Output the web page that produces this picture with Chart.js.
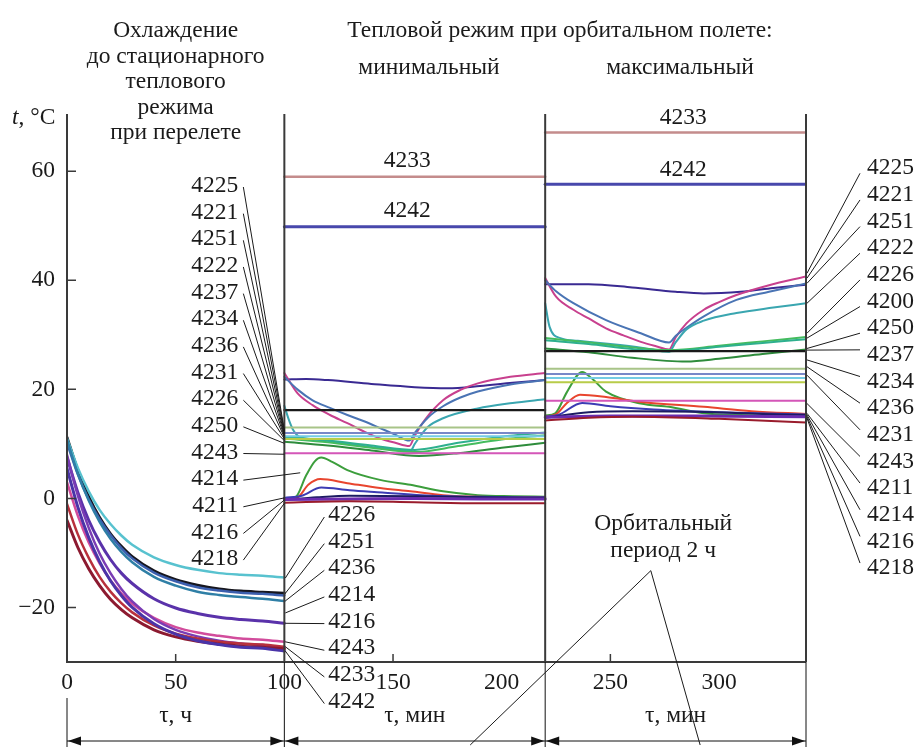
<!DOCTYPE html>
<html><head><meta charset="utf-8">
<script src="https://cdn.jsdelivr.net/npm/chart.js@4/dist/chart.umd.min.js"></script>
<style>html,body{margin:0;padding:0;background:#fff;}canvas{display:block;}</style>
</head><body>
<canvas id="c" width="919" height="747"></canvas>
<script>
// ---- Cooling to steady state during transfer flight (time in hours) ----
const flightHours = [0, 5, 10, 15, 20, 25, 30, 40, 50, 60, 70, 80, 90, 100];
const cool4226  = [11.0, 5.6, 1.3, -2.1, -4.7, -6.8, -8.5, -10.8, -12.2, -13.1, -13.7, -14.0, -14.2, -14.5];
const cool4251  = [11.2, 5.1, 0.3, -3.5, -6.5, -8.8, -10.7, -13.3, -14.9, -15.9, -16.6, -17.0, -17.2, -17.4];
const coolSteel = [10.2, 4.4, -0.2, -3.8, -6.7, -9.1, -11.0, -13.6, -15.2, -16.3, -16.9, -17.3, -17.5, -17.8];
const cool4236  = [10.8, 4.5, -0.4, -4.3, -7.4, -9.8, -11.7, -14.4, -16.0, -17.1, -17.7, -18.1, -18.4, -18.8];
const cool4216  = [7.5, 1.1, -4.0, -8.0, -11.2, -13.7, -15.6, -18.4, -20.1, -21.1, -21.8, -22.2, -22.5, -22.9];
const cool4243  = [3.0, -3.2, -8.1, -11.9, -15.0, -17.4, -19.3, -21.9, -23.6, -24.6, -25.2, -25.7, -25.9, -26.3];
const cool4233  = [-1.0, -6.6, -10.9, -14.4, -17.1, -19.2, -20.9, -23.3, -24.8, -25.7, -26.3, -26.6, -26.8, -27.2];
const coolViolet= [8.0, 0.5, -5.4, -10.1, -13.7, -16.6, -18.9, -22.1, -24.1, -25.3, -26.1, -26.6, -26.9, -27.4];
const coolMaroon= [-4.0, -9.0, -12.9, -16.0, -18.5, -20.4, -21.9, -24.1, -25.4, -26.2, -26.7, -27.1, -27.3, -27.6];
const cool4242  = [5.5, -1.6, -7.2, -11.6, -15.1, -17.8, -20.0, -23.0, -24.9, -26.1, -26.8, -27.3, -27.5, -28.0];

// ---- Orbital flight: constant-temperature units (min / max mode) ----
const flatMin = [59.0, 49.8, 16.2, 13.0, 12.0, 11.4, 10.9, 8.3];
const flatMax = [67.1, 57.6, 27.0, 23.8, 22.8, 22.1, 21.3, 17.9];

// ---- Orbital flight, minimal mode (time in minutes, 100..220) ----
const minNavy    = [[100,21.8],[110,21.9],[120,21.7],[140,21.0],[160,20.4],[175,20.2],[190,20.6],[205,21.2],[220,21.7]];
const minMagenta = [[100,23.0],[106,19.3],[113,17.1],[121,15.3],[129,13.8],[137,12.2],[144,11.0],[151,10.2],[157.5,9.6],[160,11.5],[165,14.6],[173,18.0],[181,19.9],[189,21.1],[204,22.3],[220,23.0]];
const minBlue    = [[100,22.3],[106,20.0],[113,18.0],[121,16.6],[129,15.3],[137,14.1],[144,12.9],[151,11.7],[157.5,10.6],[160,12.0],[166,14.8],[173,16.9],[181,18.5],[189,19.6],[204,20.9],[220,21.7]];
const minTeal    = [[100,17.0],[102,14.5],[104,12.6],[107,11.3],[115,10.8],[130,10.0],[145,9.2],[158,8.7],[160,10.0],[166,13.1],[173,14.7],[189,16.5],[205,17.5],[220,18.2]];
const minGreenA  = [[100,11.0],[120,10.3],[140,9.3],[160,8.5],[180,9.6],[200,10.8],[220,11.6]];
const minGreenB  = [[100,11.3],[120,10.6],[140,9.7],[160,8.9],[180,10.2],[200,11.3],[220,12.1]];
const minGreenC  = [[100,10.4],[120,9.7],[140,8.8],[162,7.8],[180,8.3],[200,9.3],[220,10.2]];
const minSpikeG  = [[100,0.0],[105,0.2],[110,4.2],[114,6.8],[117,7.5],[122,6.7],[129,5.2],[144,3.4],[158,2.5],[173,1.3],[189,0.6],[205,0.4],[220,0.3]];
const minSpikeR  = [[100,0.0],[106,0.2],[111,2.5],[116.5,3.55],[129,2.8],[144,1.9],[158,1.3],[173,0.6],[189,0.3],[220,0.2]];
const minBump    = [[100,0.1],[108,0.5],[117,2.0],[130,1.5],[145,1.1],[163,0.6],[190,0.3],[220,0.2]];
const minNavyLow = [[100,-0.3],[115,0.2],[130,0.5],[160,0.4],[190,0.2],[220,0.1]];
const minViolet  = [[100,-0.2],[130,-0.1],[160,0.0],[190,-0.1],[220,-0.1]];
const minMaroon  = [[100,-0.8],[130,-0.5],[160,-0.7],[190,-0.9],[220,-0.9]];

// ---- Orbital flight, maximal mode (time in minutes, 220..340) ----
const maxNavy    = [[220,39.3],[240,39.3],[260,38.7],[280,37.9],[293,37.6],[310,37.9],[325,38.6],[340,39.2]];
const maxMagenta = [[220,40.4],[225,37.0],[233,34.6],[240,33.0],[248,31.2],[256,29.9],[264,28.7],[271,27.9],[277,27.3],[280,29.5],[285,32.1],[293,34.6],[300,36.0],[308,37.3],[323,39.1],[340,40.7]];
const maxBlue    = [[220,40.0],[225,38.0],[233,35.8],[248,32.7],[264,30.3],[277,28.6],[280,29.8],[285,31.3],[293,33.4],[308,36.4],[323,37.9],[340,39.4]];
const maxTeal    = [[220,35.8],[222,31.5],[227,29.4],[235,28.9],[250,28.3],[265,27.6],[277,26.9],[280,28.6],[285,31.0],[293,32.6],[308,34.0],[325,35.0],[340,35.8]];
const maxGreenA  = [[220,29.4],[240,28.6],[260,27.7],[277,27.2],[300,28.0],[320,28.8],[340,29.6]];
const maxGreenB  = [[220,29.0],[240,28.3],[260,27.4],[277,27.0],[300,27.8],[320,28.5],[340,29.2]];
const maxGreenC  = [[220,27.5],[240,26.8],[260,25.8],[285,25.1],[300,25.6],[320,26.5],[340,27.3]];
const maxSpikeG  = [[220,15.2],[224.6,15.6],[230,19.5],[237,23.2],[242,21.8],[248,19.6],[264,17.4],[277,16.8],[293,15.6],[310,15.3],[340,15.1]];
const maxSpikeR  = [[220,15.0],[225,15.4],[230,17.5],[236,19.0],[248,18.6],[264,17.7],[293,16.8],[315,16.0],[340,15.5]];
const maxBump    = [[220,15.0],[226,15.3],[237,17.5],[250,16.9],[270,16.3],[300,15.8],[340,15.4]];
const maxNavyLow = [[220,14.8],[240,15.8],[260,16.0],[290,15.9],[320,15.5],[340,15.3]];
const maxViolet  = [[220,14.9],[250,15.1],[290,15.1],[340,15.0]];
const maxMaroon  = [[220,14.3],[240,14.8],[260,15.0],[300,14.6],[340,13.9]];

// ---- Axis ticks and callout labels ----
const yTicks = [60, 40, 20, 0, -20];
const xTicks = [0, 50, 100, 150, 200, 250, 300];
const leftLabels   = ['4225','4221','4251','4222','4237','4234','4236','4231','4226','4250','4243','4214','4211','4216','4218'];
const leftTargets  = [[100,12.5],[100,12.3],[100,12.0],[100,11.8],[100,11.6],[100,11.4],[100,11.2],[100,10.9],[100,10.6],[100,10.1],[100,8.1],[107.3,4.7],[100,0.1],[100,-0.3],[100,-0.9]];
const bottomLabels = ['4226','4251','4236','4214','4216','4243','4233','4242'];
const bottomTargets= [-14.6, -17.4, -18.8, -21.0, -22.9, -26.3, -27.2, -28.0];
const rightLabels  = ['4225','4221','4251','4222','4226','4200','4250','4237','4234','4236','4231','4243','4211','4214','4216','4218'];
const rightTargets = [41.3, 40.4, 39.45, 35.8, 30.3, 29.4, 27.5, 27.2, 25.4, 24.15, 22.6, 17.4, 15.6, 15.3, 15.0, 14.7];

// ---------------------------------------------------------------
const datasets = [];
function addSeries(points, color, width) {
  datasets.push({
    data: points.map(p => ({x: p[0], y: p[1]})),
    borderColor: color, borderWidth: width || 2,
    pointRadius: 0, fill: false,
    cubicInterpolationMode: 'monotone'
  });
}
const hrs = arr => flightHours.map((h, i) => [h, arr[i]]);

// cooling curves
addSeries(hrs(cool4242),  '#4a34a8', 3);
addSeries(hrs(coolMaroon),'#8c1a30', 3);
addSeries(hrs(cool4233),  '#b8303c', 2.5);
addSeries(hrs(coolViolet),'#7a3cb4', 2.5);
addSeries(hrs(cool4243),  '#d24c9c', 2.5);
addSeries(hrs(cool4216),  '#5a32aa', 3);
addSeries(hrs(cool4236),  '#2f7fa6', 2.5);
addSeries(hrs(coolSteel), '#3c5fae', 2.5);
addSeries(hrs(cool4226),  '#58c2cf', 2.5);
addSeries(hrs(cool4251),  '#16161e', 3);

// constant levels in both orbital modes
const flatColors = ['#c48c8c', '#4848ac', '#1a1a1a', '#a8c488', '#7888c8', '#74cce4', '#b8cc48', '#d456b8'];
const flatWidths = [2.5, 3, 2.2, 2, 2, 2, 2, 2];
flatMin.forEach((v, i) => addSeries([[100, v], [220, v]], flatColors[i], flatWidths[i]));
flatMax.forEach((v, i) => addSeries([[220, v], [340, v]], flatColors[i], flatWidths[i]));

// minimal mode curves
addSeries(minGreenC, '#2e8c3c'); addSeries(minGreenB, '#2eb08e'); addSeries(minGreenA, '#44bc5e');
addSeries(minTeal, '#3aa6b0'); addSeries(minBlue, '#4a74b4'); addSeries(minMagenta, '#c8408e');
addSeries(minNavy, '#3a2a92');
addSeries(minMaroon, '#9a1c2c'); addSeries(minViolet, '#6a2cb0', 3); addSeries(minNavyLow, '#1c1c62');
addSeries(minBump, '#3c3cb4'); addSeries(minSpikeR, '#e8452e'); addSeries(minSpikeG, '#3c9e3c');
// maximal mode curves
addSeries(maxGreenC, '#2e8c3c'); addSeries(maxGreenB, '#2eb08e'); addSeries(maxGreenA, '#44bc5e');
addSeries(maxTeal, '#3aa6b0'); addSeries(maxBlue, '#4a74b4'); addSeries(maxMagenta, '#c8408e');
addSeries(maxNavy, '#3a2a92');
addSeries(maxMaroon, '#9a1c2c'); addSeries(maxViolet, '#6a2cb0', 3); addSeries(maxNavyLow, '#1c1c62');
addSeries(maxBump, '#3c3cb4'); addSeries(maxSpikeR, '#e8452e'); addSeries(maxSpikeG, '#3c9e3c');

const SERIF = '"Liberation Serif", "Times New Roman", serif';
const FONT = '23.5px ' + SERIF;

const decor = {
  id: 'decor',
  afterDatasetsDraw(chart) {
    const {ctx, scales: {x, y}} = chart;
    const X = v => x.getPixelForValue(v), Y = v => y.getPixelForValue(v);
    const top = Y(70.5), base = Y(-30), H = chart.height;
    ctx.save();
    ctx.lineCap = 'butt';

    // frame: axes and mode separators
    ctx.strokeStyle = '#3a3a3a'; ctx.lineWidth = 2;
    ctx.beginPath();
    ctx.moveTo(X(0), top); ctx.lineTo(X(0), base); ctx.lineTo(X(340), base);
    [100, 220, 340].forEach(t => { ctx.moveTo(X(t), top); ctx.lineTo(X(t), base); });
    ctx.stroke();
    // tick marks point inward
    ctx.lineWidth = 1.5; ctx.beginPath();
    yTicks.forEach(v => { ctx.moveTo(X(0), Y(v)); ctx.lineTo(X(0) + 9, Y(v)); });
    xTicks.filter(t => t % 100 !== 0).forEach(t => { ctx.moveTo(X(t), base); ctx.lineTo(X(t), base - 8); });
    ctx.stroke();

    // separators continued below the axis, time-span arrows
    ctx.strokeStyle = '#111'; ctx.lineWidth = 1;
    ctx.beginPath();
    ctx.moveTo(X(0), base + 36); ctx.lineTo(X(0), H);
    [100, 220, 340].forEach(t => { ctx.moveTo(X(t), base); ctx.lineTo(X(t), H); });
    const ay = H - 6;
    [[0, 100], [100, 220], [220, 340]].forEach(([a, b]) => { ctx.moveTo(X(a), ay); ctx.lineTo(X(b), ay); });
    ctx.stroke();
    ctx.fillStyle = '#111';
    const head = (px, dir) => {
      ctx.beginPath(); ctx.moveTo(px, ay);
      ctx.lineTo(px + dir * 13, ay - 4.5); ctx.lineTo(px + dir * 13, ay + 4.5);
      ctx.closePath(); ctx.fill();
    };
    [[0, 100], [100, 220], [220, 340]].forEach(([a, b]) => { head(X(a) + 1, 1); head(X(b) - 1, -1); });

    // texts
    ctx.fillStyle = '#1a1a1a';
    ctx.font = FONT;
    ctx.textBaseline = 'middle';
    ctx.textAlign = 'right';
    yTicks.forEach(v => ctx.fillText(v < 0 ? '\u2212' + Math.abs(v) : String(v), 55, Y(v)));
    ctx.textAlign = 'center';
    xTicks.forEach(t => ctx.fillText(String(t), X(t), base + 21));
    ctx.fillText('\u03c4, ч', X(50), H - 31);
    ctx.fillText('\u03c4, мин', X(160), H - 31);
    ctx.fillText('\u03c4, мин', X(280), H - 31);

    // axis title
    ctx.textAlign = 'left';
    ctx.font = 'italic ' + FONT;
    ctx.fillText('t', 12, top + 4);
    const tw = ctx.measureText('t').width;
    ctx.font = FONT;
    ctx.fillText(', \u00b0C', 12 + tw, top + 4);

    // headings
    ctx.textAlign = 'center';
    ['Охлаждение', 'до стационарного', 'теплового', 'режима', 'при перелете']
      .forEach((s, i) => ctx.fillText(s, X(50), 31 + i * 25.5));
    ctx.fillText('Тепловой режим при орбитальном полете:', 560, 31);
    ctx.fillText('минимальный', 429, 68);
    ctx.fillText('максимальный', 680, 68);

    // names over the constant levels
    ctx.fillText('4233', X(156.5), Y(flatMin[0]) - 16);
    ctx.fillText('4242', X(156.5), Y(flatMin[1]) - 16);
    ctx.fillText('4233', X(283.5), Y(flatMax[0]) - 15);
    ctx.fillText('4242', X(283.5), Y(flatMax[1]) - 15);

    // callouts
    ctx.strokeStyle = '#1a1a1a'; ctx.lineWidth = 1;
    const step = 26.65;
    // left column (ends at start of orbital flight)
    ctx.textAlign = 'right';
    leftLabels.forEach((s, i) => {
      const cy = 186 + i * step, tx = X(100) - 46;
      ctx.fillText(s, tx, cy);
      ctx.beginPath(); ctx.moveTo(tx + 5, cy + 1);
      ctx.lineTo(X(leftTargets[i][0]), Y(leftTargets[i][1])); ctx.stroke();
    });
    // lower column (final cooling temperatures)
    ctx.textAlign = 'left';
    bottomLabels.forEach((s, i) => {
      const cy = 515 + i * step, tx = X(100) + 44;
      ctx.fillText(s, tx, cy);
      ctx.beginPath(); ctx.moveTo(tx - 4, cy + 2);
      ctx.lineTo(X(100) + 1, Y(bottomTargets[i])); ctx.stroke();
    });
    // right column (end of maximal mode)
    rightLabels.forEach((s, i) => {
      const cy = 168.3 + i * step, tx = X(340) + 61;
      ctx.fillText(s, tx, cy);
      const ty = Y(rightTargets[i]);
      ctx.beginPath(); ctx.moveTo(tx - 7, cy + (ty > cy ? 5 : -5));
      ctx.lineTo(X(340) + 1, ty); ctx.stroke();
    });

    // orbital period note
    ctx.textAlign = 'center';
    ctx.fillText('Орбитальный', X(274.3), Y(-4.7));
    ctx.fillText('период 2 ч', X(274.3), Y(-9.6));
    ctx.beginPath();
    ctx.moveTo(X(185.5), H - 2); ctx.lineTo(X(268.6), Y(-13.25)); ctx.lineTo(X(291.3), H - 2);
    ctx.stroke();
    ctx.restore();
  }
};

new Chart(document.getElementById('c'), {
  type: 'line',
  data: {datasets},
  options: {
    responsive: false, animation: false, devicePixelRatio: 1,
    layout: {padding: {left: 67, right: 113, top: 114, bottom: 85}},
    scales: {
      x: {type: 'linear', min: 0, max: 340, display: false},
      y: {type: 'linear', min: -30, max: 70.5, display: false}
    },
    plugins: {legend: {display: false}, tooltip: {enabled: false}},
    elements: {line: {borderJoinStyle: 'round', borderCapStyle: 'round'}}
  },
  plugins: [decor]
});
</script>
</body></html>
